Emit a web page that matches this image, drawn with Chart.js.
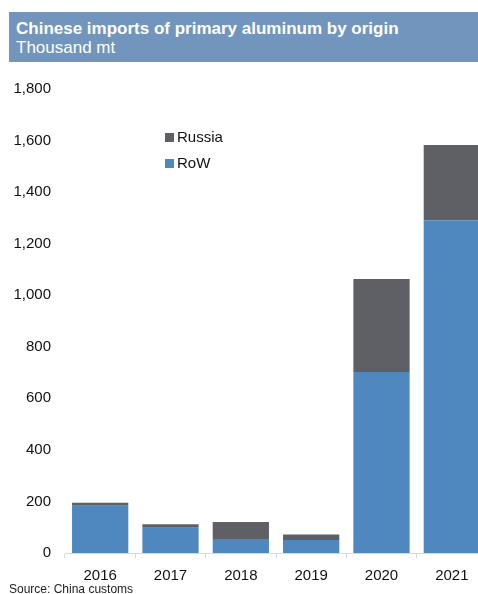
<!DOCTYPE html>
<html>
<head>
<meta charset="utf-8">
<script src="https://cdn.jsdelivr.net/npm/chart.js@4"></script>
<style>
  html, body { margin: 0; padding: 0; background: #fff; overflow: hidden; width: 478px; height: 594px; }
  body { position: relative; font-family: "Liberation Sans", Arial, sans-serif; }
  #title {
    position: absolute; left: 9px; top: 12px; width: 462px; height: 50px;
    background: #7295bd; color: #fff; padding-left: 7px; box-sizing: content-box;
  }
  #title .t1 { position: absolute; top: 7px; left: 7px; font-size: 17px; font-weight: bold; white-space: nowrap; }
  #title .t2 { position: absolute; top: 26px; left: 7px; font-size: 17px; white-space: nowrap; }
  #wrap { position: absolute; left: 0; top: 70px; width: 487px; height: 513px; }
  #legend { position: absolute; left: 165px; top: 128px; font-size: 15px; color: #111; }
  #legend div { height: 26px; line-height: 18px; white-space: nowrap; }
  #legend span { display: inline-block; width: 9px; height: 9px; margin-right: 3px; }
  #source { position: absolute; left: 9px; top: 582px; font-size: 12px; color: #222; white-space: nowrap; }
</style>
</head>
<body>
<div id="title"><div class="t1">Chinese imports of primary aluminum by origin</div><div class="t2">Thousand mt</div></div>
<div id="wrap"><canvas id="myChart"></canvas></div>
<div id="legend">
  <div><span style="background:#5f6065"></span>Russia</div>
  <div><span style="background:#4f88be"></span>RoW</div>
</div>
<div id="source">Source: China customs</div>
<script>
const years = ['2016', '2017', '2018', '2019', '2020', '2021']
const row = [183, 98, 54, 50, 702, 1291]
const russia = [12, 14, 66, 22, 361, 292]

const ctx = document.getElementById('myChart');

new Chart(ctx, {
  type: 'bar',
  data: {
    labels: years,
    datasets: [
      {
        label: 'RoW',
        data: row,
        backgroundColor: '#4f88be',
        borderWidth: 0
      },
      {
        label: 'Russia',
        data: russia,
        backgroundColor: '#5f6065',
        borderWidth: 0
      }
    ]
  },
  options: {
    responsive: true,
    maintainAspectRatio: false,
    animation: false,
    layout: { padding: { top: 19, left: 0, right: 0, bottom: 0 } },
    plugins: {
      legend: { display: false },
      tooltip: { enabled: false }
    },
    datasets: {
      bar: { categoryPercentage: 1, barPercentage: 0.8 }
    },
    scales: {
      x: {
        stacked: true,
        grid: {
          offset: true,
          drawOnChartArea: false,
          drawTicks: true,
          tickLength: 5,
          color: '#d9d9d9'
        },
        border: { display: true, color: '#d9d9d9', width: 1 },
        ticks: {
          color: '#111',
          padding: 9,
          font: { family: '"Liberation Sans", Arial, sans-serif', size: 15 }
        },
        afterFit: (scale) => { scale.height = 30 }
      },
      y: {
        stacked: true,
        min: 0,
        max: 1800,
        grid: { display: false },
        border: { display: false },
        ticks: {
          stepSize: 200,
          color: '#111',
          padding: 6,
          font: { family: '"Liberation Sans", Arial, sans-serif', size: 15 },
          callback: (v) => v.toLocaleString('en-US')
        },
        afterFit: (scale) => { scale.width = 65 }
      }
    }
  }
});
</script>
</body>
</html>
